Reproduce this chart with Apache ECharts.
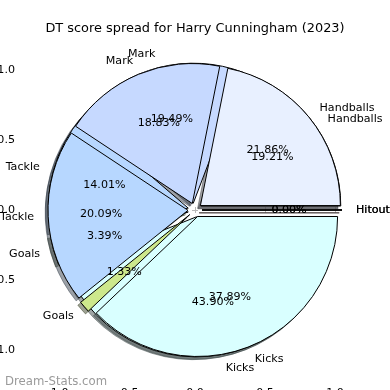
<!DOCTYPE html>
<html>
<head>
<meta charset="utf-8">
<script src="https://cdn.jsdelivr.net/npm/echarts@6/dist/echarts.min.js"></script>
<style>html,body{margin:0;padding:0;background:#fff}#c{width:390px;height:390px}</style>
</head>
<body>
<div id="c"></div>
<script>
const categories = ['Handballs', 'Mark', 'Tackle', 'Goals', 'Kicks', 'Hitout'];
const valuesA = [19.21, 19.49, 14.01, 3.39, 43.90, 0.00];
const valuesB = [21.86, 18.83, 20.09, 1.33, 37.89, 0.00];
const sliceColors = ['#e8f0ff', '#c6d9ff', '#b7d7ff', '#cde88c', '#d9ffff', '#ffe0e0'];
const tickValues = [-1, -0.5, 0, 0.5, 1];

const FONT = 'DejaVu Sans';
const R = 140;
const CX = 195, CY = 210;
const OFFSET = 7;
const SH = 2.8;

function darken(hex) {
  const r = parseInt(hex.slice(1,3),16), g = parseInt(hex.slice(3,5),16), b = parseInt(hex.slice(5,7),16);
  return 'rgba(' + Math.round(r*0.3) + ',' + Math.round(g*0.3) + ',' + Math.round(b*0.3) + ',0.5)';
}
function makeData(vals, kind) {
  return categories.map((n, i) => {
    const item = { name: n, value: vals[i], selected: true };
    if (kind === 'shadow') {
      item.itemStyle = { color: darken(sliceColors[i]), borderColor: darken(sliceColors[i]), borderWidth: 1 };
    } else if (kind === 'main') {
      item.itemStyle = { color: sliceColors[i], borderColor: '#000', borderWidth: 1 };
    } else {
      item.itemStyle = { color: 'rgba(0,0,0,0)', borderWidth: 0 };
    }
    return item;
  });
}
const common = {
  type: 'pie', startAngle: 0, clockwise: false, selectedMode: 'multiple',
  selectedOffset: OFFSET, avoidLabelOverlap: false, animation: false,
  emphasis: { disabled: true }, select: { itemStyle: {} }, minAngle: 0,
  percentPrecision: 2, labelLayout: { hideOverlap: false }
};
function shadowSeries(vals) {
  return Object.assign({}, common, {
    center: [CX - SH, CY + SH], radius: R, z: 1,
    data: makeData(vals, 'shadow'), label: { show: false }, labelLine: { show: false }, silent: true
  });
}
function mainSeries(vals) {
  return Object.assign({}, common, {
    center: [CX, CY], radius: R, z: 2,
    data: makeData(vals, 'main'),
    label: { show: true, position: 'outside', formatter: '{b}', color: '#000',
      fontFamily: FONT, fontSize: 11.1, distanceToLabelLine: 0 },
    labelLine: { show: false, length: R * 0.1, length2: 0 }
  });
}
function pctSeries(vals) {
  return Object.assign({}, common, {
    center: [CX, CY], radius: R * 1.2, z: 3,
    data: makeData(vals, 'pct'),
    label: { show: true, position: 'inside', rotate: 0,
      formatter: p => p.value.toFixed(2) + '%', color: '#000',
      fontFamily: FONT, fontSize: 11.1 },
    labelLine: { show: false }, silent: true
  });
}
const tickFmt = v => (v < 0 ? '\u2212' : '') + Math.abs(v).toFixed(1);
const tickStyle = { show: true, inside: true, length: 3, lineStyle: { color: '#b8b8b8', width: 1 }, customValues: tickValues };
const axisBase = { type: 'value', min: -1.25, max: 1.25, splitLine: { show: false }, axisLine: { show: false } };

const chart = echarts.init(document.getElementById('c'), null, { renderer: 'canvas' });
chart.setOption({
  animation: false,
  backgroundColor: '#fff',
  title: [
    { text: 'DT score spread for Harry Cunningham (2023)', left: 'center', top: 17,
      textStyle: { fontFamily: FONT, fontSize: 12.9, fontWeight: 'normal', color: '#000' } },
    { text: 'Dream-Stats.com', left: 0, top: 371,
      textStyle: { fontFamily: FONT, fontSize: 11.7, fontWeight: 'normal', color: '#9a9a9a' } }
  ],
  grid: { left: 20, right: 20, top: 35, bottom: 5, containLabel: false, outerBoundsMode: 'none' },
  xAxis: [
    Object.assign({}, axisBase, { position: 'bottom', axisTick: tickStyle,
      axisLabel: { show: true, margin: 3, formatter: tickFmt, customValues: tickValues, fontFamily: FONT, fontSize: 11.1, color: '#000', hideOverlap: false } }),
    Object.assign({}, axisBase, { position: 'top', axisTick: tickStyle, axisLabel: { show: false } })
  ],
  yAxis: [
    Object.assign({}, axisBase, { position: 'left', axisTick: tickStyle,
      axisLabel: { show: true, margin: 5, formatter: tickFmt, customValues: tickValues, fontFamily: FONT, fontSize: 11.1, color: '#000', hideOverlap: false } }),
    Object.assign({}, axisBase, { position: 'right', axisTick: tickStyle, axisLabel: { show: false } })
  ],
  series: [
    shadowSeries(valuesA), shadowSeries(valuesB),
    mainSeries(valuesA), mainSeries(valuesB),
    pctSeries(valuesA), pctSeries(valuesB)
  ]
});
</script>
</body>
</html>
